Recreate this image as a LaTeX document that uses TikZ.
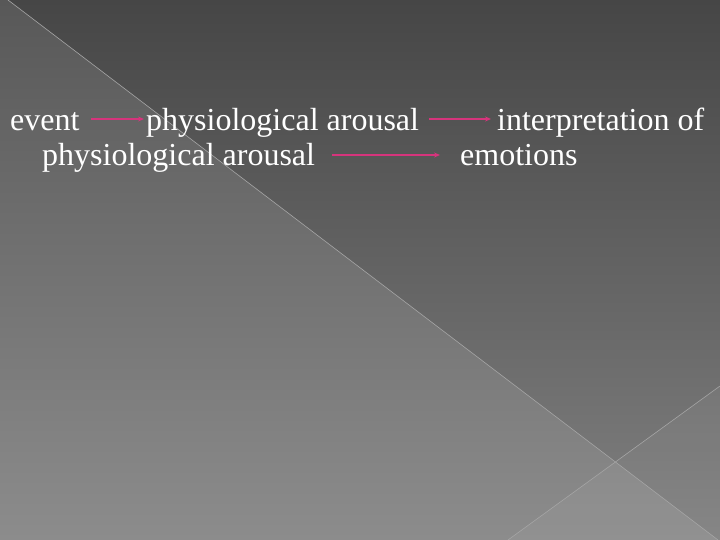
\documentclass[tikz,border=0pt]{standalone}
\usepackage{fontspec}
\setmainfont{Liberation Serif}
\usepackage{xcolor}
\usetikzlibrary{arrows.meta, positioning}

\definecolor{slidetop}{RGB}{70,70,70}
\definecolor{slidebottom}{RGB}{128,128,128}
\definecolor{wedgetop}{RGB}{88,88,88}
\definecolor{wedgebottom}{RGB}{140,140,140}
\definecolor{linegray}{RGB}{165,165,165}
\definecolor{arrowpink}{RGB}{214,52,124}

\begin{document}
\begin{tikzpicture}[x=1bp, y=-1bp,
    word/.style={text=white, font=\fontsize{32bp}{38bp}\selectfont, inner sep=0pt, anchor=base west},
    link/.style={arrowpink, line width=2bp, -{Stealth[length=6bp, width=5bp]}}]
    % Draw background
    \useasboundingbox (0,0) rectangle (720,540);
    \shade[top color=slidetop, bottom color=slidebottom] (0,0) rectangle (720,540);
    \shade[top color=wedgetop, bottom color=wedgebottom] (0,0) -- (8,0) -- (718,540) -- (0,540) -- cycle;
    \fill[white, opacity=0.05] (508,540) -- (720,386) -- (720,540) -- cycle;

    % Draw thin diagonal lines
    \draw[linegray, line width=0.6bp] (8,0) -- (718,540);
    \draw[linegray, line width=0.6bp] (508,540) -- (720,386);

    % First line of text
    \node[word] (event) at (10,131) {event};
    \node[word] (arousalA) at (146,131) {physiological arousal};
    \node[word] (interp) at (497,131) {interpretation of};

    % Second line of text
    \node[word] (arousalB) at (42,166) {physiological arousal};
    \node[word] (emotions) at (460,166) {emotions};

    % Add arrows
    \draw[link] ([xshift=11bp, yshift=12bp]event.base east) -- ([xshift=-2bp, yshift=12bp]arousalA.base west);
    \draw[link] ([xshift=10bp, yshift=12bp]arousalA.base east) -- ([xshift=-6bp, yshift=12bp]interp.base west);
    \draw[link] ([xshift=17bp, yshift=11bp]arousalB.base east) -- ([xshift=-20bp, yshift=11bp]emotions.base west);
\end{tikzpicture}
\end{document}
